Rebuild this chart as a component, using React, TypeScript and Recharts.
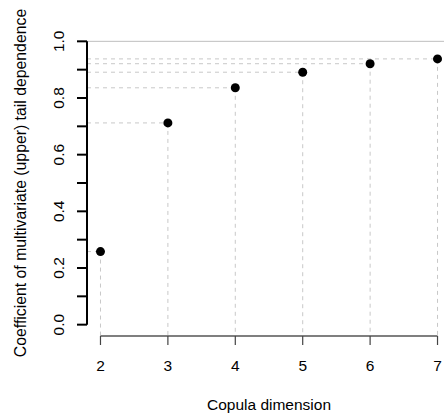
import React from 'react'
import { ComposedChart, Scatter, XAxis, YAxis, ReferenceLine } from 'recharts'

const dimensions = [2, 3, 4, 5, 6, 7]
const tailDependence = [0.258, 0.712, 0.836, 0.891, 0.921, 0.938]
const xTicks = [2, 3, 4, 5, 6, 7]
const yTicks = [0, 0.1, 0.2, 0.3, 0.4, 0.5, 0.6, 0.7, 0.8, 0.9, 1.0]
const yLabels = ['0.0', '0.2', '0.4', '0.6', '0.8', '1.0']

const data = dimensions.map((d, i) => ({ dim: d, coef: tailDependence[i] }))

const FONT = '"Liberation Sans", Arial, sans-serif'
const FS = 15.5

// y ticks: a tick mark at every 0.1, a label at every 0.2 (like R drops overlapping ones)
const YTick = (props: any) => {
  const { x, y, payload } = props
  const label = payload.value.toFixed(1)
  if (!yLabels.includes(label)) return <g />
  return (
    <text
      transform={`translate(${x - 13},${y}) rotate(-90)`}
      textAnchor="middle"
      fontFamily={FONT}
      fontSize={FS}
      fill="#000"
    >
      {label}
    </text>
  )
}

const XTick = (props: any) => {
  const { x, y, payload } = props
  return (
    <text x={x} y={y + 26} textAnchor="middle" fontFamily={FONT} fontSize={FS} fill="#000">
      {payload.value}
    </text>
  )
}

const XTitle = (props: any) => {
  const { viewBox } = props
  return (
    <text
      x={viewBox.x + viewBox.width / 2}
      y={viewBox.y + 74}
      textAnchor="middle"
      fontFamily={FONT}
      fontSize={FS}
      fill="#000"
    >
      Copula dimension
    </text>
  )
}

const YTitle = (props: any) => {
  const { viewBox } = props
  return (
    <text
      transform={`translate(26,${viewBox.y + viewBox.height / 2}) rotate(-90)`}
      textAnchor="middle"
      fontFamily={FONT}
      fontSize={15.8}
      fill="#000"
    >
      Coefficient of multivariate (upper) tail dependence
    </text>
  )
}

const Dot = (props: any) => <circle cx={props.cx} cy={props.cy} r={4.5} fill="#000" />

const App = () => {
  return (
    <div style={{ position: 'absolute', left: 0, top: 0, width: 444, height: 417, overflow: 'hidden', background: '#fff' }}>
      <ComposedChart width={460} height={417} data={data} margin={{ top: 30, right: 9, bottom: 0, left: 0 }}>
        <XAxis
          type="number"
          dataKey="dim"
          domain={[1.8, 7.2]}
          ticks={xTicks}
          height={81}
          axisLine={false}
          tickSize={9}
          tickMargin={0}
          tickLine={{ stroke: '#444', strokeWidth: 1.2 }}
          tick={<XTick />}
          label={<XTitle />}
        />
        <YAxis
          type="number"
          dataKey="coef"
          domain={[-0.04, 1.04]}
          ticks={yTicks}
          width={87}
          axisLine={false}
          tickSize={10}
          tickMargin={0}
          tickLine={{ stroke: '#000', strokeWidth: 2 }}
          tick={<YTick />}
          label={<YTitle />}
          interval={0}
        />
        <ReferenceLine y={1} stroke="#bebebe" ifOverflow="visible" />
        {data.map((p) => (
          <ReferenceLine
            key={'h' + p.dim}
            segment={[{ x: 1.8, y: p.coef }, { x: p.dim, y: p.coef }]}
            stroke="#c8c8c8"
            strokeDasharray="4 4"
            ifOverflow="visible"
          />
        ))}
        {data.map((p) => (
          <ReferenceLine
            key={'v' + p.dim}
            segment={[{ x: p.dim, y: p.coef }, { x: p.dim, y: -0.04 }]}
            stroke="#c8c8c8"
            strokeDasharray="4 4"
            ifOverflow="visible"
          />
        ))}
        <ReferenceLine
          segment={[{ x: 1.8, y: 0 }, { x: 1.8, y: 1 }]}
          stroke="#000"
          strokeWidth={2}
          ifOverflow="visible"
        />
        <ReferenceLine
          segment={[{ x: 2, y: -0.04 }, { x: 7, y: -0.04 }]}
          stroke="#555"
          strokeWidth={1.5}
          ifOverflow="visible"
        />
        <Scatter dataKey="coef" fill="#000" shape={<Dot />} isAnimationActive={false} />
      </ComposedChart>
    </div>
  )
}

export default App
